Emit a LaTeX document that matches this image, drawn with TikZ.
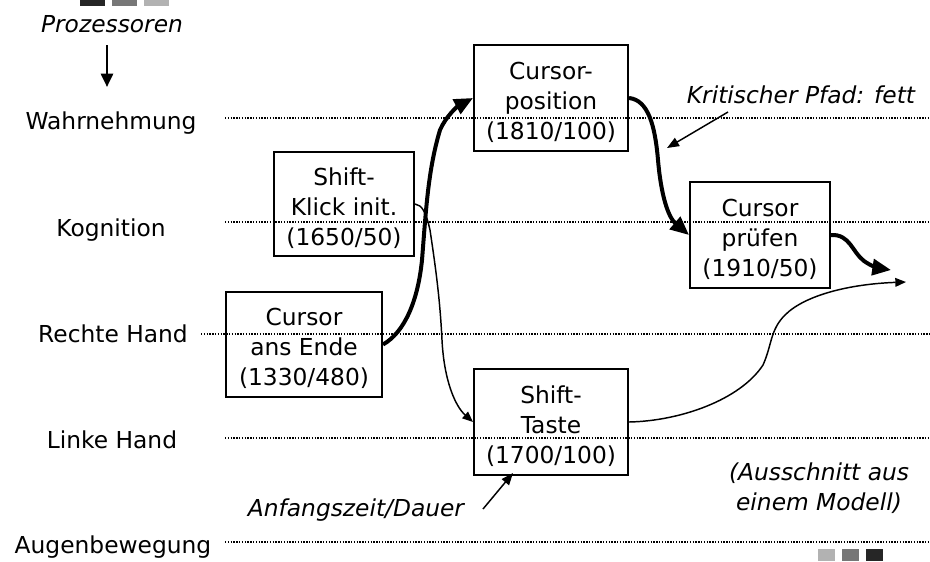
\documentclass[tikz,border=0pt]{standalone}
\usepackage{fontspec}
\setmainfont{DejaVu Sans}
\usetikzlibrary{arrows.meta}
\definecolor{sqdark}{HTML}{262626}
\definecolor{sqmid}{HTML}{777777}
\definecolor{sqlight}{HTML}{B2B2B2}
\newcommand{\topstrut}{\rule{0pt}{19pt}}
\begin{document}
\begin{tikzpicture}[x=0.75pt,y=-0.75pt,
  every node/.style={font=\fontsize{17.5}{22.5}\selectfont, inner sep=0pt},
  lbl/.style={anchor=base},
  note/.style={anchor=base, font=\fontsize{17.5}{22.5}\selectfont\itshape},
  lane/.style={line width=1pt, dash pattern=on 1pt off 1.1pt},
  box/.style={draw, line width=1.5pt, align=center},
  crit/.style={line width=3pt, -{Triangle[length=14pt,width=12pt]}},
  dep/.style={line width=1.1pt, -{Triangle[length=8pt,width=6.5pt]}},
  ann/.style={line width=1.1pt, -{Triangle[length=9pt,width=7pt]}}
]
\useasboundingbox (0,0) rectangle (930,561);

% decorative squares
\fill[sqdark]  (80,0) rectangle (105,6);
\fill[sqmid]   (112,0) rectangle (137,6);
\fill[sqlight] (144,0) rectangle (169,6);
\fill[sqlight] (818,549) rectangle (835,561);
\fill[sqmid]   (842,549) rectangle (859,561);
\fill[sqdark]  (866,549) rectangle (883,561);

% processor header
\node[note] (proz) at (112,32) {Prozessoren};
\coordinate (pa) at (107,45);
\coordinate (pb) at (107,87);
\draw[line width=2pt, -{Triangle[length=10pt,width=9pt]}] (pa) -- (pb);

% lane labels
\node[lbl] (wahr) at (111,129) {Wahrnehmung};
\node[lbl] (kogn) at (111,236) {Kognition};
\node[lbl] (rh)   at (113,342) {Rechte Hand};
\node[lbl] (lh)   at (112,448) {Linke Hand};
\node[lbl] (auge) at (113,553) {Augenbewegung};

% lanes
\draw[lane] (225,118) -- (930,118);
\draw[lane] (225,222) -- (930,222);
\draw[lane] (201,334) -- (930,334);
\draw[lane] (225,438) -- (930,438);
\draw[lane] (225,542) -- (930,542);

% operator boxes
\node[box, minimum width=115.5pt, minimum height=79.5pt] (cpos) at (551,98)
  {\topstrut Cursor-\\position\\(1810/100)};
\node[box, minimum width=105pt, minimum height=78pt] (skl) at (344,204)
  {\topstrut Shift-\\Klick init.\\(1650/50)};
\node[box, minimum width=117pt, minimum height=78.75pt] (cae) at (304,344.5)
  {\topstrut Cursor\\ans Ende\\(1330/480)};
\node[box, minimum width=115.5pt, minimum height=79.5pt] (st) at (551,422)
  {\topstrut Shift-\\Taste\\(1700/100)};
\node[box, minimum width=105pt, minimum height=79.5pt] (cpr) at (760,235)
  {\topstrut Cursor\\prüfen\\(1910/50)};

% critical path (bold)
\draw[crit] (cae.east) .. controls (405,332) and (418,300) .. (422,260)
  .. controls (426,210) and (428,170) .. (440,130)
  .. controls (446,116) and (458,106) .. (cpos.west);
\draw[crit] (cpos.east) .. controls (648,100) and (655,125) .. (658,160)
  .. controls (661,195) and (668,217) .. (cpr.west);
\coordinate (endA) at (891,270);
\draw[crit] (cpr.east) .. controls (850,234) and (852,252) .. (864,261)
  .. controls (871,266) and (878,268) .. (endA);

% other dependencies
\draw[dep] (skl.east) .. controls (422,205) and (426,212) .. (430,230)
  .. controls (436,270) and (440,300) .. (442,340)
  .. controls (444,380) and (455,406) .. (st.west);
\coordinate (endB) at (906,282);
\draw[dep] (st.east) .. controls (680,421) and (740,400) .. (763,365)
  .. controls (772,345) and (770,330) .. (785,315)
  .. controls (805,295) and (850,284) .. (endB);

% annotations
\node[note] (krit) at (801,103) {Kritischer Pfad: fett};
\coordinate (kritA) at (728,112);
\coordinate (kritB) at (667,148);
\draw[ann] (kritA) -- (kritB);

\node[note] (anf) at (356,516) {Anfangszeit/Dauer};
\coordinate (anfA) at (483,509);
\draw[ann] (anfA) -- (513,473);

\node[note, align=center, anchor=center] (ausschn) at (819,488)
  {(Ausschnitt aus\\einem Modell)};
\end{tikzpicture}
\end{document}
